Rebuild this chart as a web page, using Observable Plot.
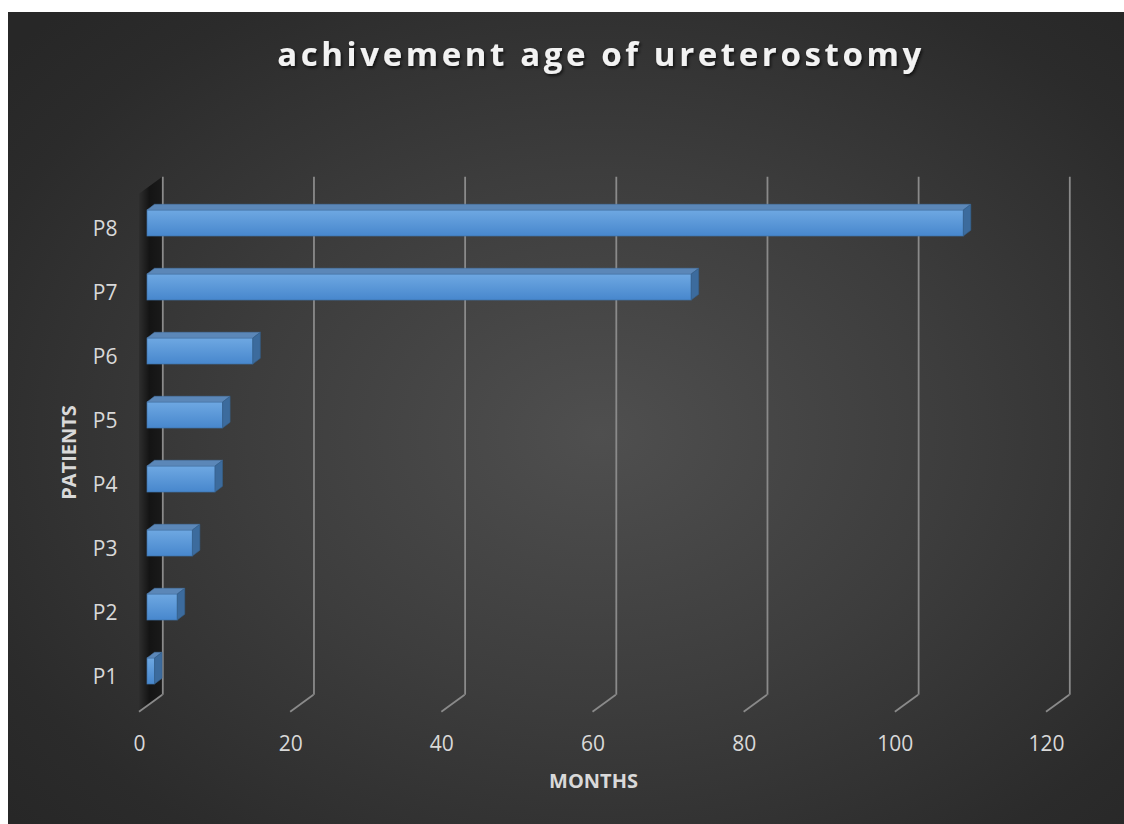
<!DOCTYPE html>
<html><head><meta charset="utf-8">
<script src="https://cdn.jsdelivr.net/npm/d3@7"></script>
<script src="https://cdn.jsdelivr.net/npm/@observablehq/plot@0.6"></script>
<style>
html,body{margin:0;padding:0;background:#fff;}
#chart{position:absolute;left:8px;top:12px;width:1116px;height:812px;}
</style></head><body><div id="chart"></div>
<script>
const title = "achivement age of ureterostomy";
const patients = ["P1","P2","P3","P4","P5","P6","P7","P8"];
const months = [1,4,6,9,10,14,72,108];
const xTicks = [0,20,40,60,80,100,120];
const xLabel = "MONTHS";
const yLabel = "PATIENTS";

const data = patients.map((p,i)=>({patient:p, months:months[i]}));

// 3D oblique offsets (px) relative to the bar plane
const BACK = [15.3, -11.2];
const FRONT = [-8, 5.8];
const BAR = [7.5, -5.7];
const NS = "http://www.w3.org/2000/svg";
function poly(doc, pts, fill, stroke) {
  const p = doc.createElementNS(NS, "polygon");
  p.setAttribute("points", pts.map(d => d.join(",")).join(" "));
  p.setAttribute("fill", fill);
  if (stroke) { p.setAttribute("stroke", stroke); p.setAttribute("stroke-width", "0.6"); }
  return p;
}

const W = 1116, H = 812;
const chart = Plot.plot({
  width: W, height: H,
  marginLeft: 139, marginRight: 70, marginTop: 176, marginBottom: 118,
  style: {
    background: "radial-gradient(ellipse 70% 72% at 53% 52%, #4f4f4f 0%, #3d3d3d 45%, #2b2b2b 85%, #272727 100%)",
    fontFamily: "'Open Sans', sans-serif",
    color: "#d9d9d9",
    overflow: "visible"
  },
  x: {domain: [0, 120], axis: null},
  y: {domain: patients.slice().reverse(), axis: null, paddingInner: 0.6, paddingOuter: 0.3},
  marks: [
    // side wall
    Plot.ruleX([0], {x: d => d, render: (index, scales, values, dims, ctx) => {
      const doc = ctx.document;
      const g = doc.createElementNS(NS, "g");
      const x0 = values.x[0];
      const yt = dims.marginTop, yb = dims.height - dims.marginBottom;
      g.appendChild(poly(doc, [
        [x0 + BACK[0], yt + BACK[1]], [x0 + BACK[0], yb + BACK[1]],
        [x0 + FRONT[0], yb + FRONT[1]], [x0 + FRONT[0], yt + FRONT[1]]
      ], "url(#wallGrad)"));
      return g;
    }}),
    // back gridlines
    Plot.ruleX(xTicks, {x: d => d, dx: BACK[0], dy: BACK[1], stroke: "#8a8a8a", strokeWidth: 1.8}),
    // floor diagonals
    Plot.ruleX(xTicks, {x: d => d, render: (index, scales, values, dims, ctx) => {
      const doc = ctx.document;
      const g = doc.createElementNS(NS, "g");
      const yb = dims.height - dims.marginBottom;
      for (const i of index) {
        const x = values.x[i];
        const l = doc.createElementNS(NS, "line");
        l.setAttribute("x1", x + BACK[0]); l.setAttribute("y1", yb + BACK[1]);
        l.setAttribute("x2", x + FRONT[0]); l.setAttribute("y2", yb + FRONT[1]);
        l.setAttribute("stroke", "#8a8a8a"); l.setAttribute("stroke-width", "1.8");
        g.appendChild(l);
      }
      return g;
    }}),
    // bars (front face from Plot, top & side faces added from the same rects)
    Plot.barX(data, {y: "patient", x: "months", fill: "url(#frontGrad)", stroke: "#3f73aa", strokeWidth: 0.7,
      render: (index, scales, values, dims, ctx, next) => {
        const g = next(index, scales, values, dims, ctx);
        const doc = ctx.document;
        for (const r of Array.from(g.querySelectorAll("rect"))) {
          const x = +r.getAttribute("x"), y = +r.getAttribute("y");
          const w = +r.getAttribute("width"), h = +r.getAttribute("height");
          g.appendChild(poly(doc, [[x, y], [x + BAR[0], y + BAR[1]], [x + w + BAR[0], y + BAR[1]], [x + w, y]], "#5b87b8", "#4a76a6"));
          g.appendChild(poly(doc, [[x + w, y], [x + w + BAR[0], y + BAR[1]], [x + w + BAR[0], y + h + BAR[1]], [x + w, y + h]], "#3c6b9d", "#345f8c"));
        }
        return g;
      }}),
    Plot.text(xTicks, {x: d => d, text: d => String(d), frameAnchor: "bottom", lineAnchor: "middle", dx: FRONT[0], dy: 38, fill: "#d9d9d9", fontSize: 21}),
    Plot.text(patients, {y: d => d, text: d => d, frameAnchor: "left", dx: -30, dy: 6, textAnchor: "end", lineAnchor: "middle", fill: "#d9d9d9", fontSize: 21}),
    Plot.text([xLabel], {text: d => d, frameAnchor: "bottom", lineAnchor: "middle", textAnchor: "middle", dx: -7.5, dy: 75, fontWeight: "bold", fontSize: 20, fill: "#d9d9d9"}),
    Plot.text([yLabel], {text: d => d, frameAnchor: "left", textAnchor: "middle", lineAnchor: "middle", rotate: -90, dx: -78, dy: 5, fontWeight: "bold", fontSize: 20, fill: "#d9d9d9"}),
    Plot.text([title], {text: d => d, frameAnchor: "top", textAnchor: "middle", dy: -123, lineAnchor: "bottom", fontSize: 33, fontWeight: "bold", fill: "#f2f2f2",
      render: (index, scales, values, dims, ctx, next) => {
        const g = next(index, scales, values, dims, ctx);
        g.setAttribute("letter-spacing", "3.6");
        g.setAttribute("filter", "url(#tshadow)");
        return g;
      }})
  ]
});

const defs = d3.select(chart).insert("defs", ":first-child");
const fg = defs.append("linearGradient").attr("id", "frontGrad").attr("x1", 0).attr("y1", 0).attr("x2", 0).attr("y2", 1);
fg.append("stop").attr("offset", "0%").attr("stop-color", "#6ea8e2");
fg.append("stop").attr("offset", "100%").attr("stop-color", "#4787cd");
const wg = defs.append("linearGradient").attr("id", "wallGrad").attr("x1", 0).attr("y1", 0).attr("x2", 1).attr("y2", 0);
wg.append("stop").attr("offset", "0%").attr("stop-color", "#2e2e2e");
wg.append("stop").attr("offset", "45%").attr("stop-color", "#141414");
wg.append("stop").attr("offset", "100%").attr("stop-color", "#1a1a1a");
const sh = defs.append("filter").attr("id", "tshadow").attr("x", "-10%").attr("y", "-30%").attr("width", "120%").attr("height", "160%");
sh.append("feDropShadow").attr("dx", 1.5).attr("dy", 2).attr("stdDeviation", 1.5).attr("flood-color", "#000").attr("flood-opacity", 0.65);

document.getElementById("chart").appendChild(chart);
</script></body></html>
